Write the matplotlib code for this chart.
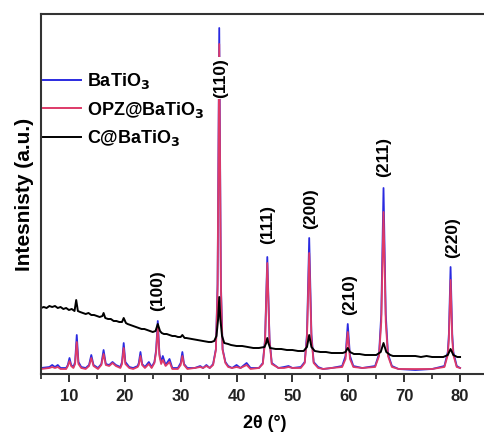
import matplotlib
matplotlib.use("Agg")
import matplotlib.pyplot as plt
from matplotlib.ticker import MultipleLocator

plt.rcParams['font.family'] = ['Liberation Sans', 'DejaVu Sans']
plt.rcParams['font.weight'] = 'bold'
plt.rcParams['mathtext.default'] = 'bf'

# ---- data (2theta in degrees, intensity in a.u.) ----
bt_x = [5.0, 6.5, 7.0, 7.5, 8.0, 8.5, 9.5, 9.8, 10.1, 10.4, 10.8, 11.1, 11.4, 11.7, 12.2, 13.0,
        13.6, 14.0, 14.4, 15.2, 15.8, 16.2, 16.6, 17.2, 17.8, 18.4, 19.2, 19.5, 19.8, 20.1, 20.8,
        21.5, 22.3, 22.5, 22.8, 23.1, 23.6, 24.3, 24.8, 25.3, 25.6, 25.9, 26.2, 26.5, 26.8, 27.3,
        28.0, 28.5, 29.5, 30.0, 30.3, 30.6, 31.2, 32.5, 33.5, 34.0, 34.6, 35.2, 35.8, 36.3, 36.6,
        36.9, 37.2, 37.5, 38.0, 38.5, 39.2, 40.0, 40.7, 41.8, 42.5, 44.0, 44.7, 45.1, 45.5, 45.9,
        46.3, 47.5, 48.5, 49.3, 50.0, 51.5, 52.2, 52.6, 53.0, 53.4, 53.8, 54.6, 55.5, 57.0, 58.9,
        59.5, 59.9, 60.3, 60.9, 62.5, 64.8, 65.5, 65.9, 66.3, 66.7, 67.1, 67.8, 69.0, 72.0, 75.0,
        77.2, 77.8, 78.0, 78.3, 78.6, 78.8, 79.4, 80.0]
bt_y = [6, 7, 9, 7, 9, 6, 6, 9, 16, 9, 7, 12, 39, 12, 7, 6,
        9, 19, 9, 6, 10, 24, 10, 9, 12, 9, 7, 12, 31, 12, 7,
        6, 8, 11, 22, 10, 7, 12, 7, 12, 24, 53, 20, 12, 18, 9,
        15, 6, 6, 11, 22, 10, 6, 6, 8, 6, 9, 6, 10, 25, 90,
        346, 90, 25, 12, 8, 6, 9, 6, 11, 6, 6, 11, 35, 117, 35,
        11, 6, 7, 8, 6, 7, 12, 40, 136, 40, 12, 7, 5, 6, 8,
        18, 50, 18, 8, 6, 8, 20, 60, 186, 60, 20, 8, 5, 4, 5,
        8, 22, 40, 107, 40, 22, 8, 6]

opz_x = bt_x
opz_y = [5, 6, 7, 6, 7, 5, 5, 8, 13, 8, 6, 10, 32, 10, 6, 5,
         8, 16, 8, 5, 9, 20, 9, 8, 11, 8, 6, 10, 26, 10, 6,
         5, 7, 9, 18, 9, 6, 10, 6, 11, 22, 47, 18, 10, 14, 8,
         12, 5, 5, 9, 18, 9, 5, 6, 7, 6, 8, 6, 9, 24, 85,
         330, 85, 24, 11, 7, 6, 7, 6, 9, 5, 6, 10, 33, 111, 33,
         10, 6, 6, 7, 6, 6, 11, 36, 121, 36, 11, 6, 5, 6, 7,
         15, 42, 15, 7, 6, 7, 18, 52, 162, 52, 18, 7, 5, 5, 5,
         7, 19, 35, 94, 35, 19, 7, 6]

c_x = [5, 5.5, 6, 6.5, 7, 7.5, 8, 8.5, 9, 9.5, 10, 10.5, 11.0, 11.3, 11.6, 12, 12.5, 13, 13.5,
       14, 14.5, 15, 15.5, 16, 16.2, 16.5, 17, 17.5, 18, 18.5, 19, 19.5, 19.8, 20.2, 20.5, 21,
       21.5, 22, 22.5, 23, 23.5, 24, 24.5, 25, 25.5, 25.9, 26.3, 26.6, 27, 27.5, 28, 28.5, 29,
       29.5, 30, 30.3, 30.7, 31, 32, 33, 34, 35, 35.5, 36, 36.4, 36.7, 36.9, 37.1, 37.4, 37.8,
       38.5, 39, 40, 41, 42, 43, 44, 45, 45.3, 45.5, 45.7, 46, 47, 48, 49, 50, 51, 52, 52.6,
       53.0, 53.4, 54, 55, 56, 57, 58, 59, 59.5, 59.9, 60.3, 61, 62, 63, 64, 65, 65.8, 66.3,
       66.8, 67.5, 68, 69, 70, 71, 72, 73, 74, 75, 76, 77, 77.8, 78.3, 78.8, 79.5, 80]
c_y = [66, 67, 66, 68, 67, 68, 66, 67, 65, 66, 64, 65, 63, 74, 63, 62, 61, 60, 61,
       59, 59, 58, 57, 58, 61, 56, 55, 55, 53, 53, 52, 52, 56, 51, 50, 49,
       48, 47, 46, 45, 45, 44, 43, 42, 43, 50, 43, 41, 40, 40, 39, 38, 38,
       37, 37, 39, 36, 36, 35, 34, 33, 32, 32, 33, 38, 55, 77, 55, 38, 31,
       30, 29, 28, 28, 27, 26, 26, 27, 31, 36, 31, 26, 25, 25, 24, 24, 23, 23, 27,
       39, 27, 23, 22, 22, 21, 21, 21, 22, 26, 22, 20, 20, 19, 19, 19, 22, 31,
       22, 19, 18, 18, 18, 18, 18, 17, 18, 17, 17, 17, 19, 25, 19, 17, 17]

hkl_labels = ['(100)', '(110)', '(111)', '(200)', '(210)', '(211)', '(220)']
hkl_x = [25.8, 37.1, 45.5, 53.3, 60.3, 66.4, 78.7]
hkl_y = [83, 296, 149, 165, 79, 217, 136]

series_names = ['BaTiO$_3$', 'OPZ@BaTiO$_3$', 'C@BaTiO$_3$']

# ---- figure ----
fig = plt.figure(figsize=(4.84, 4.36), dpi=100)
ax = fig.add_axes([41/484, 1 - 374/436, (488 - 41)/484, 360/436])

l1, = ax.plot(bt_x, bt_y, color='#2a2ae0', lw=1.3, label=series_names[0])
l2, = ax.plot(opz_x, opz_y, color='#de3a68', lw=1.3, label=series_names[1])
l3, = ax.plot(c_x, c_y, color='black', lw=1.4, label=series_names[2])

for t, x, y in zip(hkl_labels, hkl_x, hkl_y):
    ax.text(x, y, t, rotation=90, ha='center', va='center', fontsize=12.5,
            fontweight='bold', bbox=dict(facecolor='white', edgecolor='none', pad=0.5))

ax.set_xlim(5, 85)
ax.set_ylim(0, 360)
ax.xaxis.set_major_locator(MultipleLocator(10))
ax.xaxis.set_minor_locator(MultipleLocator(5))
ax.set_xticks([10, 20, 30, 40, 50, 60, 70, 80])
ax.set_yticks([])
ax.tick_params(axis='x', which='major', direction='out', length=6, width=1.3,
               labelsize=12, pad=5, colors='#222222')
ax.tick_params(axis='x', which='minor', direction='out', length=3.5, width=1.2, colors='#222222')
for lab in ax.get_xticklabels():
    lab.set_fontweight('bold')
for s in ax.spines.values():
    s.set_linewidth(1.5)
    s.set_color('#333333')

ax.set_xlabel('2θ (°)', fontsize=13, fontweight='bold', labelpad=8)
ax.set_ylabel('Intesnisty (a.u.)', fontsize=15, fontweight='bold', labelpad=5)

leg = ax.legend(handles=[l1, l2, l3], loc='upper left',
                bbox_to_anchor=(43/484, 1 - 71/436), bbox_transform=fig.transFigure,
                frameon=False, fontsize=13, handlelength=2.1, handletextpad=0.35,
                labelspacing=0.48, borderpad=0, borderaxespad=0)
for txt in leg.get_texts():
    txt.set_fontweight('bold')
for h in leg.get_lines():
    h.set_linewidth(1.4)

fig.savefig('out.png', dpi=100)
